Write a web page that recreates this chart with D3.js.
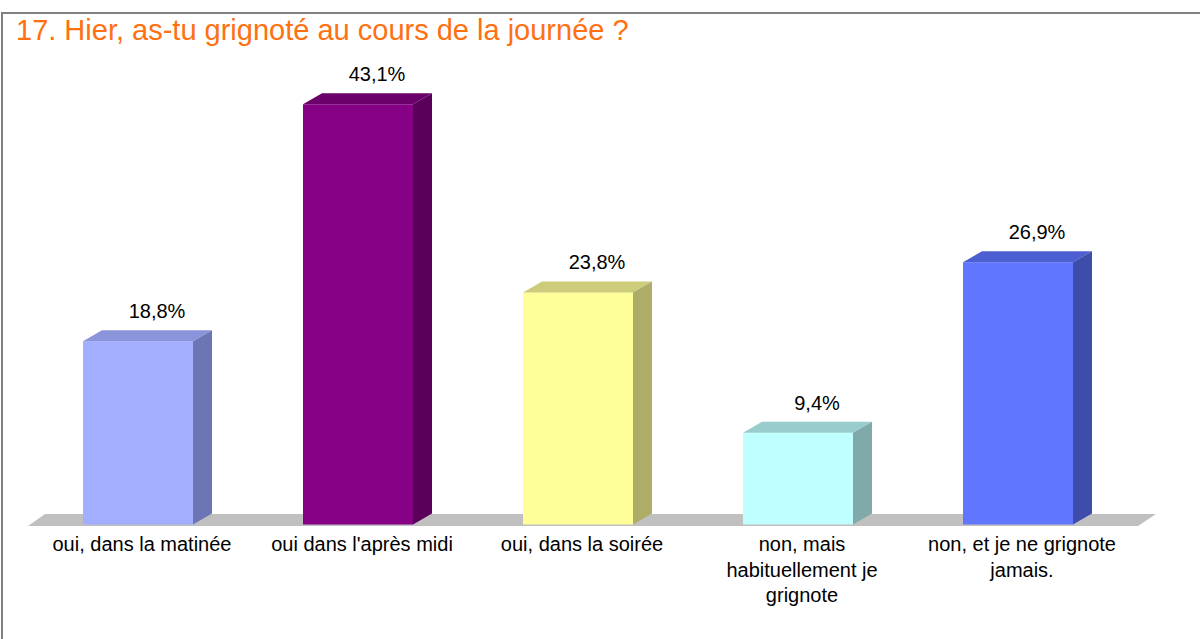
<!DOCTYPE html>
<html><head><meta charset="utf-8">
<script src="https://cdn.jsdelivr.net/npm/d3@7"></script>
<style>html,body{margin:0;padding:0;background:#fff;}svg{display:block;}</style>
</head><body>
<svg id="chart" width="1200" height="639"></svg>
<script>
const title = "17. Hier, as-tu grignoté au cours de la journée ?";
const categories = ["oui, dans la matinée", "oui dans l'après midi", "oui, dans la soirée", "non, mais\nhabituellement je\ngrignote", "non, et je ne grignote\njamais."];
const values = [18.8, 43.1, 23.8, 9.4, 26.9];
const frontColors = ["#A2AEFF", "#850085", "#FFFF99", "#C0FFFF", "#6076FF"];
const topColors = ["#8A94DA", "#6B006B", "#CCCC7A", "#99CCCC", "#4C5ED0"];
const sideColors = ["#6C76B5", "#5A005A", "#ADAD68", "#80AAAA", "#3E4DAA"];

const svg = d3.select("#chart");
const font = "'Liberation Sans', Arial, sans-serif";
const dx = 19, dy = -11;

// border
svg.append("path").attr("d", "M2,639 V13 H1200").attr("fill", "none").attr("stroke", "#808080").attr("stroke-width", 2);

svg.append("text").attr("x", 16).attr("y", 40).attr("fill", "#FF7010")
  .attr("font-family", font).attr("font-size", 29).text(title);

const x = d3.scaleBand().domain(categories).range([28, 1128]).paddingInner(0.5).paddingOuter(0.25);
const y = d3.scaleLinear().domain([0, 45]).range([524.5, 524.5 - 45 * 9.75]);

// floor
const fx0 = x.range()[0], fx1 = x.range()[1] + 10;
svg.append("path")
  .attr("d", `M${fx0},526 L${fx0 + 17},514 L${fx1 + 18},514 L${fx1},526 Z`)
  .attr("fill", "#C0C0C0");

const g = svg.append("g");
categories.forEach((c, i) => {
  const x0 = x(c), w = x.bandwidth(), y0 = y(0), y1 = y(values[i]);
  g.append("rect").attr("x", x0).attr("y", y1).attr("width", w).attr("height", y0 - y1).attr("fill", frontColors[i]);
  g.append("path").attr("d", `M${x0},${y1} L${x0 + dx},${y1 + dy} L${x0 + w + dx},${y1 + dy} L${x0 + w},${y1} Z`).attr("fill", topColors[i]);
  g.append("path").attr("d", `M${x0 + w},${y1} L${x0 + w + dx},${y1 + dy} L${x0 + w + dx},${y0 + dy} L${x0 + w},${y0} Z`).attr("fill", sideColors[i]);
  g.append("text").attr("x", x0 + w / 2 + dx).attr("y", y1 + dy - 12)
    .attr("text-anchor", "middle").attr("font-family", font).attr("font-size", 20).attr("fill", "#000")
    .text(values[i].toFixed(1).replace(".", ",") + "%");
  const t = g.append("text").attr("text-anchor", "middle").attr("font-family", font).attr("font-size", 20).attr("fill", "#000");
  c.split("\n").forEach((line, k) => {
    t.append("tspan").attr("x", x0 + w / 2 + 4).attr("y", 551 + k * 25.5).text(line);
  });
});
</script>
</body></html>
